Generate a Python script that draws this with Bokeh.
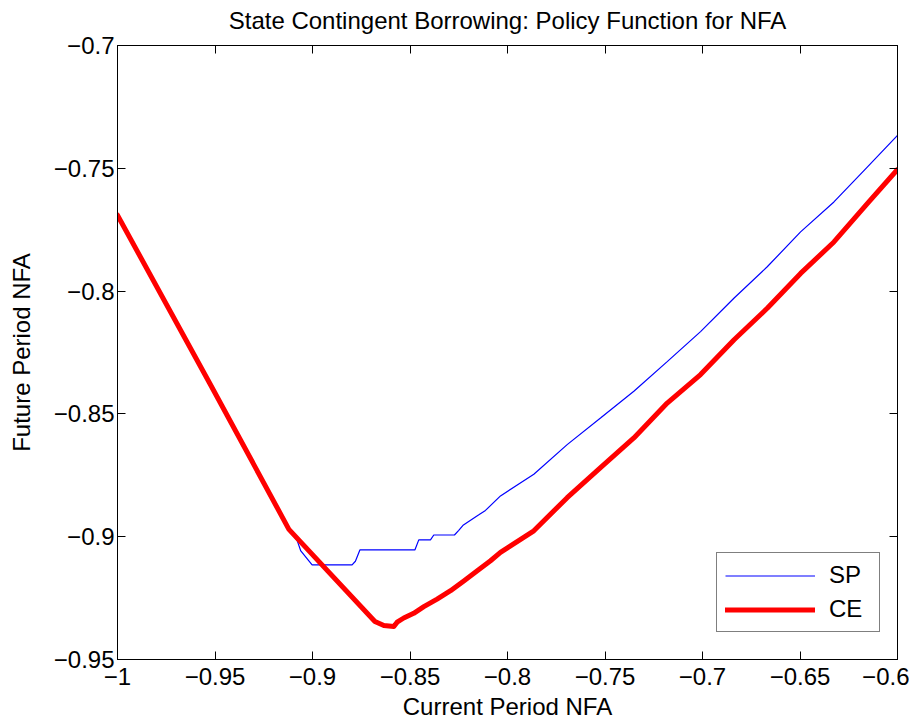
from bokeh.plotting import figure
from bokeh.models import (Range1d, LinearAxis, FixedTicker, Legend, LegendItem,
                          CustomLabelingPolicy)
from bokeh.embed import file_html
from bokeh.resources import INLINE

# ---- data ----
sp_x = [-1.0, -0.9523, -0.9121, -0.9078, -0.9060, -0.9002, -0.8797, -0.8780,
        -0.8757, -0.8475, -0.8455, -0.8395, -0.8378, -0.8272, -0.8250, -0.8226,
        -0.8147, -0.8113, -0.8036, -0.7865, -0.7694, -0.7523, -0.7352, -0.7181,
        -0.7010, -0.6839, -0.6668, -0.6497, -0.6326, -0.6155, -0.6000]
sp_y = [-0.7691, -0.8381, -0.8970, -0.9017, -0.9058, -0.9115, -0.9115, -0.9100,
        -0.9054, -0.9054, -0.9013, -0.9013, -0.8993, -0.8993, -0.8974, -0.8952,
        -0.8911, -0.8893, -0.8834, -0.8746, -0.8625, -0.8517, -0.8408, -0.8287,
        -0.8165, -0.8029, -0.7901, -0.7759, -0.7637, -0.7495, -0.7366]

ce_x = [-1.0, -0.9523, -0.9121, -0.8680, -0.8634, -0.8583, -0.8566, -0.8532,
        -0.8481, -0.8429, -0.8361, -0.8292, -0.8224, -0.8155, -0.8087, -0.8036,
        -0.7865, -0.7694, -0.7523, -0.7352, -0.7181, -0.7010, -0.6838, -0.6668,
        -0.6497, -0.6326, -0.6155, -0.6000]
ce_y = [-0.7691, -0.8381, -0.8970, -0.9345, -0.9362, -0.9366, -0.9348, -0.9331,
        -0.9312, -0.9285, -0.9254, -0.9220, -0.9180, -0.9139, -0.9098, -0.9064,
        -0.8976, -0.8841, -0.8719, -0.8598, -0.8456, -0.8340, -0.8198, -0.8070,
        -0.7928, -0.7800, -0.7644, -0.7505]

x_ticks = [-1.0, -0.95, -0.9, -0.85, -0.8, -0.75, -0.7, -0.65, -0.6]
x_tick_labels = ["\u22121", "\u22120.95", "\u22120.9", "\u22120.85", "\u22120.8",
                 "\u22120.75", "\u22120.7", "\u22120.65", "\u22120.6"]
y_ticks = [-0.95, -0.9, -0.85, -0.8, -0.75, -0.7]
y_tick_labels = ["\u22120.95", "\u22120.9", "\u22120.85", "\u22120.8", "\u22120.75", "\u22120.7"]

series_names = ["SP", "CE"]

FONT = "Liberation Sans"
FS = "24px"

p = figure(width=909, height=724,
           x_range=Range1d(-1.0, -0.6), y_range=Range1d(-0.95, -0.7),
           output_backend="svg", toolbar_location=None,
           min_border_left=117, min_border_right=12,
           min_border_top=43, min_border_bottom=65,
           background_fill_color="white", border_fill_color="white")

p.title.text = "State Contingent Borrowing: Policy Function for NFA"
p.title.align = "center"
p.title.vertical_align = "top"
p.title.text_font = FONT
p.title.text_font_size = FS
p.title.text_font_style = "normal"
p.title.text_color = "black"
p.title.standoff = 12

p.grid.visible = False
p.outline_line_color = "black"
p.outline_line_width = 1

p.xaxis.ticker = FixedTicker(ticks=x_ticks)
p.yaxis.ticker = FixedTicker(ticks=y_ticks)
p.xaxis.major_label_overrides = dict(zip(x_ticks, x_tick_labels))
p.yaxis.major_label_overrides = dict(zip(y_ticks, y_tick_labels))
p.xaxis.axis_label = "Current Period NFA"
p.yaxis.axis_label = "Future Period NFA"
p.xaxis.major_label_standoff = 8
p.xaxis.axis_label_standoff = 5
p.yaxis.major_label_standoff = 3
p.yaxis.axis_label_standoff = 16

for ax in (p.xaxis, p.yaxis):
    ax.major_label_text_font = FONT
    ax.major_label_text_font_size = FS
    ax.major_label_text_color = "black"
    ax.axis_label_text_font = FONT
    ax.axis_label_text_font_size = FS
    ax.axis_label_text_font_style = "normal"
    ax.axis_label_text_color = "black"
    ax.axis_line_color = "black"
    ax.major_tick_line_color = "black"
    ax.major_tick_in = 8
    ax.major_tick_out = 0
    ax.minor_tick_in = 0
    ax.minor_tick_out = 0

no_labels = "return new Set()"
top_axis = LinearAxis(ticker=FixedTicker(ticks=x_ticks),
                      major_label_policy=CustomLabelingPolicy(code=no_labels),
                      major_label_text_font_size="1px",
                      major_tick_in=8, major_tick_out=0, minor_tick_in=0, minor_tick_out=0,
                      major_label_standoff=0, axis_line_color="black",
                      major_tick_line_color="black")
right_axis = LinearAxis(ticker=FixedTicker(ticks=y_ticks),
                        major_label_policy=CustomLabelingPolicy(code=no_labels),
                        major_label_text_font_size="1px",
                        major_tick_in=8, major_tick_out=0, minor_tick_in=0, minor_tick_out=0,
                        major_label_standoff=0, axis_line_color="black",
                        major_tick_line_color="black")
p.add_layout(top_axis, "above")
p.add_layout(right_axis, "right")

r_sp = p.line(sp_x, sp_y, line_color="#0000ff", line_width=1.2)
r_ce = p.line(ce_x, ce_y, line_color="#ff0000", line_width=5, line_join="round", line_cap="round")

legend = Legend(items=[LegendItem(label=series_names[0], renderers=[r_sp]),
                       LegendItem(label=series_names[1], renderers=[r_ce])],
                location=(599, 27), margin=0, padding=8, spacing=6,
                glyph_width=90, glyph_height=27, label_height=27,
                label_standoff=14, label_width=42,
                label_text_font=FONT, label_text_font_size=FS, label_text_color="black",
                border_line_color="black", border_line_width=1,
                background_fill_color="white", background_fill_alpha=1.0)
p.add_layout(legend, "center")

open("out.html", "w").write(file_html(p, INLINE))
